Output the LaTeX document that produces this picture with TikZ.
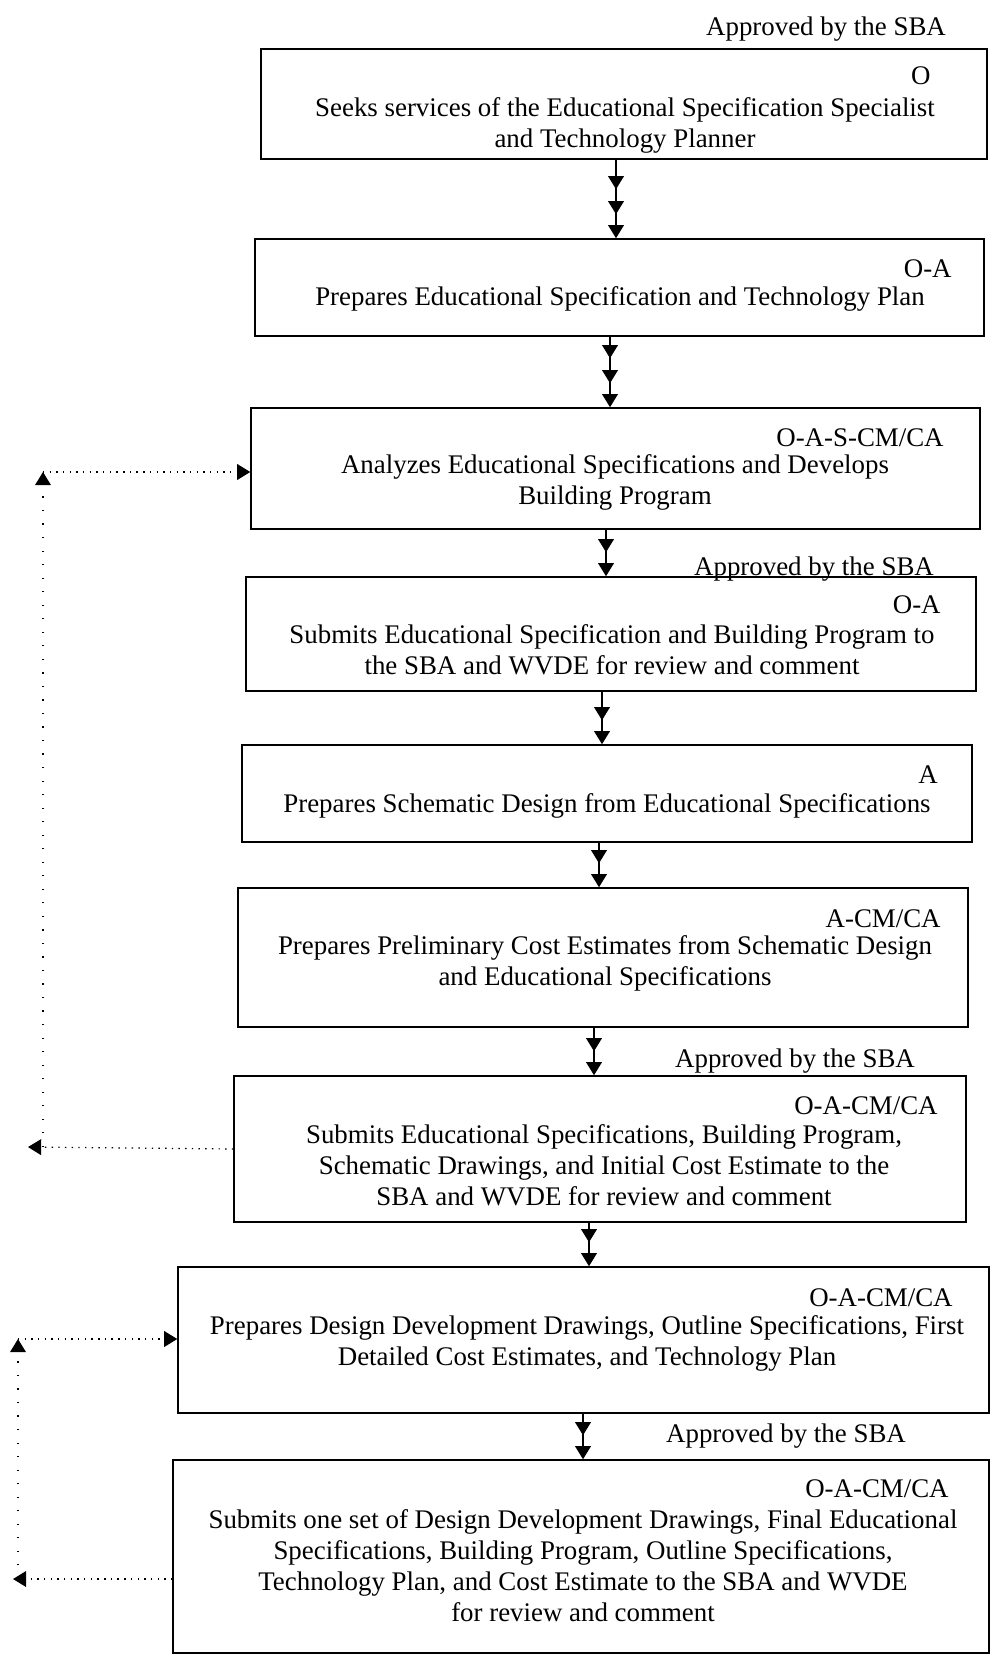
\documentclass[tikz,border=0pt]{standalone}
\usepackage{fontspec}
\setmainfont{Liberation Serif}
\usetikzlibrary{arrows.meta,decorations.markings}

\begin{document}
\begin{tikzpicture}[x=0.02cm, y=-0.02cm,
    >={Triangle[length=7.5pt, width=9pt]},
    box/.style={draw, line width=0.9pt, inner sep=0pt},
    txt/.style={align=center, inner sep=0pt, font=\fontsize{15.3}{17.6}\selectfont},
    role/.style={anchor=base east, inner sep=0pt, font=\fontsize{15.3}{17.6}\selectfont},
    sba/.style={inner sep=0pt, font=\fontsize{15.3}{17.6}\selectfont},
    flow/.style={line width=0.8pt, ->},
    twohead/.style={flow, postaction={decorate},
      decoration={markings, mark=at position -0.48cm with {\arrow{>}}}},
    threehead/.style={flow, postaction={decorate},
      decoration={markings, mark=at position -0.48cm with {\arrow{>}},
        mark=at position -0.98cm with {\arrow{>}}}},
    fback/.style={line width=0.7pt, dash pattern=on 0.8pt off 3pt, ->},
    fbackup/.style={fback, dash pattern=on 0.7pt off 7pt},
  ]
        \useasboundingbox (0,0) rectangle (992,1659);

        % the steps
        \node[box, minimum width=14.52cm, minimum height=2.20cm] (b1) at (624,104) {};
        \node[box, minimum width=14.58cm, minimum height=1.94cm] (b2) at (619.5,287.5) {};
        \node[box, minimum width=14.58cm, minimum height=2.42cm] (b3) at (615.5,468.5) {};
        \node[box, minimum width=14.60cm, minimum height=2.28cm] (b4) at (611,634) {};
        \node[box, minimum width=14.60cm, minimum height=1.94cm] (b5) at (607,793.5) {};
        \node[box, minimum width=14.60cm, minimum height=2.78cm] (b6) at (603,957.5) {};
        \node[box, minimum width=14.64cm, minimum height=2.92cm] (b7) at (600,1149) {};
        \node[box, minimum width=16.22cm, minimum height=2.92cm] (b8) at (583.5,1340) {};
        \node[box, minimum width=16.32cm, minimum height=3.86cm] (b9) at (581,1556.5) {};

        \node[role] (r1) at (931,85) {O};
        \node[role] (r2) at (952,277) {O-A};
        \node[role] (r3) at (944,446) {O-A-S-CM/CA};
        \node[role] (r4) at (941,613) {O-A};
        \node[role] (r5) at (938,783) {A};
        \node[role] (r6) at (941,927) {A-CM/CA};
        \node[role] (r7) at (938,1114) {O-A-CM/CA};
        \node[role] (r8) at (953,1306) {O-A-CM/CA};
        \node[role] (r9) at (949,1497) {O-A-CM/CA};

        \node[txt] (t1) at (625,125) {Seeks services of the Educational Specification Specialist\\and Technology Planner};
        \node[txt] (t2) at (620,299) {Prepares Educational Specification and Technology Plan};
        \node[txt] (t3) at (615,482) {Analyzes Educational Specifications and Develops\\Building Program};
        \node[txt] (t4) at (612,650) {Submits Educational Specification and Building Program to\\the SBA and WVDE for review and comment};
        \node[txt] (t5) at (607,806) {Prepares Schematic Design from Educational Specifications};
        \node[txt] (t6) at (605,963) {Prepares Preliminary Cost Estimates from Schematic Design\\and Educational Specifications};
        \node[txt] (t7) at (604,1165) {Submits Educational Specifications, Building Program,\\Schematic Drawings, and Initial Cost Estimate to the\\SBA and WVDE for review and comment};
        \node[txt] (t8) at (587,1343) {Prepares Design Development Drawings, Outline Specifications, First\\Detailed Cost Estimates, and Technology Plan};
        \node[txt] (t9) at (583,1566) {Submits one set of Design Development Drawings, Final Educational\\Specifications, Building Program, Outline Specifications,\\Technology Plan, and Cost Estimate to the SBA and WVDE\\for review and comment};

        % approvals
        \node[sba] (a1) at (826,29) {Approved by the SBA};
        \node[sba] (a2) at (814,569) {Approved by the SBA};
        \node[sba] (a3) at (795,1061) {Approved by the SBA};
        \node[sba] (a4) at (786,1436) {Approved by the SBA};

        % flow down
        \draw[threehead] (b1.south -| 616,0) -- (b2.north -| 616,0);
        \draw[threehead] (b2.south -| 610,0) -- (b3.north -| 610,0);
        \draw[twohead] (b3.south -| 606,0) -- (b4.north -| 606,0);
        \draw[twohead] (b4.south -| 602,0) -- (b5.north -| 602,0);
        \draw[twohead] (b5.south -| 599,0) -- (b6.north -| 599,0);
        \draw[twohead] (b6.south -| 594,0) -- (b7.north -| 594,0);
        \draw[twohead] (b7.south -| 589,0) -- (b8.north -| 589,0);
        \draw[twohead] (b8.south -| 583,0) -- (b9.north -| 583,0);

        % review loops
        \coordinate (l7) at (28,1147);
        \coordinate (u3) at (43,472);
        \draw[fback] (b7.west) -- (l7);
        \draw[fbackup] (l7 -| u3) -- (u3);
        \draw[fback] (u3) -- (u3 -| b3.west);

        \coordinate (l9) at (13,1579);
        \coordinate (u8) at (18,1339);
        \draw[fback] (b9.west |- l9) -- (l9);
        \draw[fbackup] (l9 -| u8) -- (u8);
        \draw[fback] (u8) -- (u8 -| b8.west);
      \end{tikzpicture}
\end{document}
